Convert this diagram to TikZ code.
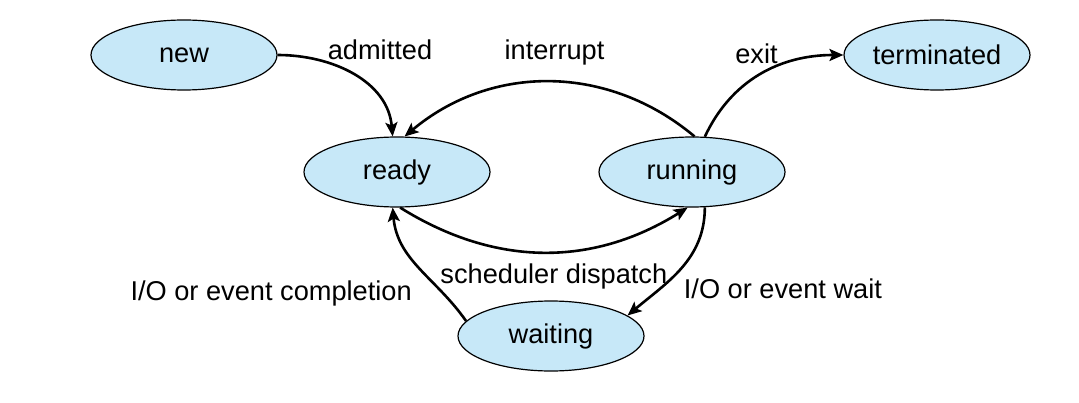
\documentclass[tikz,border=0pt]{standalone}
\usepackage{fontspec}
\setmainfont{Liberation Sans}
\usepackage{xcolor}
\usetikzlibrary{arrows.meta, positioning, shapes.geometric}
\definecolor{procblue}{RGB}{199,232,248}

\begin{document}
\begin{tikzpicture}[
      x=0.5pt, y=0.5pt,
      proc/.style={draw, ellipse, fill=procblue, line width=0.6pt,
                   minimum width=93pt, minimum height=35pt, inner sep=0pt,
                   font=\fontsize{13.6}{16}\selectfont},
      arr/.style={-{Stealth[length=7pt, width=6pt, inset=1.5pt]}, line width=1.3pt},
      lbl/.style={font=\fontsize{13.6}{16}\selectfont}
    ]
      \useasboundingbox (0,0) rectangle (1079,402);

      % states
      \node[proc] (new)  at (184,347) {new};
      \node[proc] (term) at (937,347) {terminated};
      \node[proc] (ready) at (397,230) {ready};
      \node[proc] (run)  at (692,230) {running};
      \node[proc] (wait) at (551,66)  {waiting};

      % transitions
      \draw[arr] (new.east) to[out=0, in=95]
        node[lbl, pos=0.3, above right, xshift=-3pt, yshift=-3pt] {admitted} (ready.97);
      \draw[arr] (run.86) to[out=140, in=40]
        node[lbl, above=4.5pt, xshift=2.5pt] {interrupt} (ready.78);
      \draw[arr] (run.70) to[out=65, in=180]
        node[lbl, pos=0.5, above=1.5pt, xshift=-2pt] {exit} (term.west);
      \draw[arr] (wait.170) to[out=125, in=-85]
        node[lbl, pos=0.3, left, xshift=-9pt, yshift=-3pt] {I/O or event completion} (ready.-97);
      \draw[arr] (ready.-85) to[out=-32, in=-148]
        node[lbl, below=2pt, xshift=5pt] {scheduler dispatch} (run.-97);
      \draw[arr] (run.-70) to[out=-90, in=40]
        node[lbl, pos=0.62, right, xshift=3pt, yshift=-4.5pt] {I/O or event wait} (wait.15);
    \end{tikzpicture}
\end{document}
